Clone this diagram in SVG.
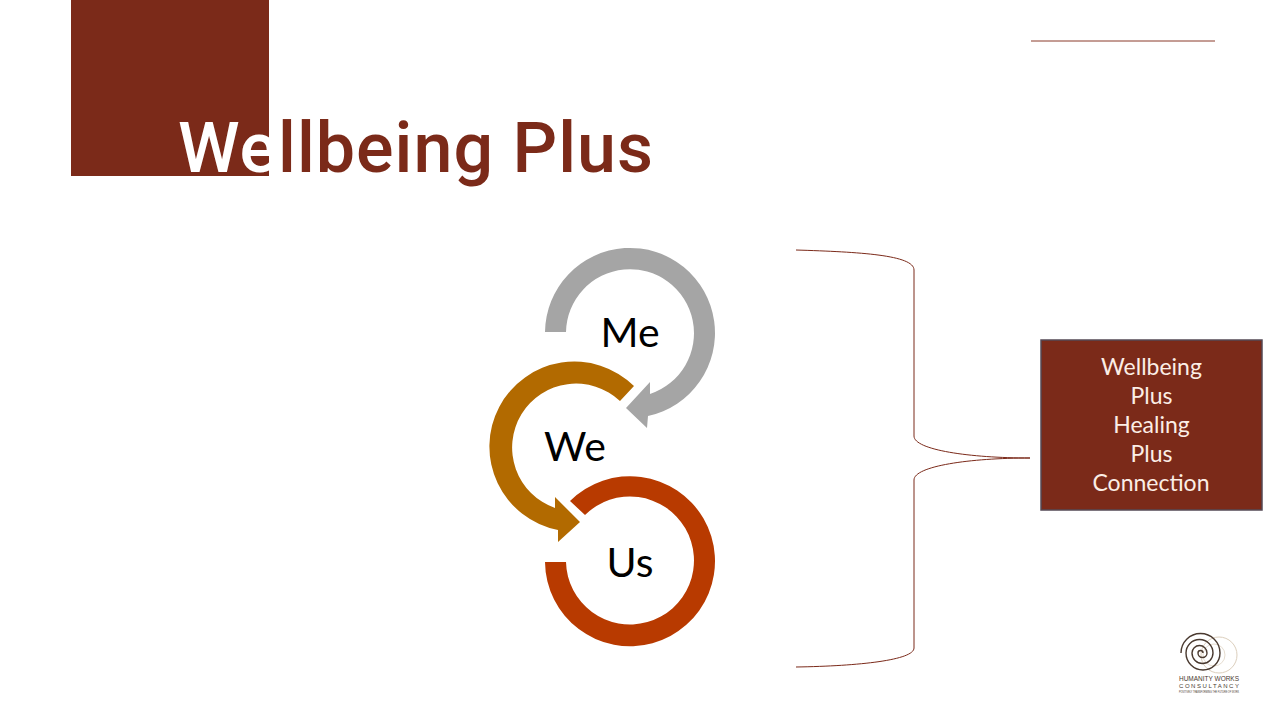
<svg xmlns="http://www.w3.org/2000/svg" width="1280" height="720" viewBox="0 0 1280 720">
<style>
.lbl{font-family:"Lato","Open Sans",sans-serif;font-size:41px;fill:#000;text-anchor:middle}
.box{font-family:"Lato","Open Sans",sans-serif;font-size:23px;fill:#fbeee6;text-anchor:middle}
.thin{fill:none;stroke:#7b2a1a;stroke-width:1}
.lg{font-family:"Liberation Sans",sans-serif;fill:#4a3a30;text-anchor:middle}
</style>
<rect width="1280" height="720" fill="#fff"/>
<g id="title">
<rect x="71" y="0" width="198" height="176" fill="#7b2a19"/>
<text x="178" y="172" font-family="Roboto,sans-serif" font-size="70" font-weight="500" fill="#7b2a19" textLength="475" lengthAdjust="spacing"><tspan fill="#fff">We</tspan>llbeing Plus</text>
</g>
<line id="top-rule" x1="1031" y1="41" x2="1215" y2="41" stroke="#8a3a2a" stroke-width="1"/>
<g id="me">
<path fill="#a5a5a5" d="M545 332A85 85 0 1 1 648 416L647 428L626 408L650 382L650 394A64 64 0 1 0 566 332Z"/>
<text class="lbl" x="630" y="347">Me</text>
</g>
<g id="us">
<path fill="#b83a00" d="M570 501A85 85 0 1 1 545 562L566 562A64 64 0 1 0 585 515Z"/>
<text class="lbl" x="630" y="577">Us</text>
</g>
<g id="we">
<path fill="#b26a00" d="M634 386A85 85 0 1 0 558 530L558 542L580 522L555 497L555 508A64 64 0 1 1 620 401Z"/>
<text class="lbl" x="575" y="461">We</text>
</g>
<g id="connectors">
<path class="thin" d="M796 250C860 252 914 255 914 270L914 436C914 450 970 458 1030 458C970 458 914 466 914 480L914 648C914 660 860 666 796 667"/>
</g>
<g id="summary">
<rect x="1041" y="340" width="221" height="170" fill="#7b2a19" stroke="#544a55" stroke-width="1.500"/>
<text class="box" x="1151.500" y="375">Wellbeing</text>
<text class="box" x="1151.500" y="404">Plus</text>
<text class="box" x="1151.500" y="433">Healing</text>
<text class="box" x="1151.500" y="462">Plus</text>
<text class="box" x="1151" y="491">Connection</text>
</g>
<g id="logo">
<circle cx="1219" cy="655" r="18" fill="none" stroke="#dccfbd" stroke-width="1"/>
<circle cx="1214" cy="655" r="11" fill="none" stroke="#e6ddd0" stroke-width="1"/>
<path fill="none" stroke="#4a3a30" stroke-width="1.400" d="M1203 653A2.500 2.500 0 0 0 1198 653A4.500 4.500 0 0 0 1207 653A7.500 7.500 0 0 0 1192 653A10.500 10.500 0 0 0 1213 653A13.500 13.500 0 0 0 1186 653A17 17 0 0 0 1220 653A19.500 19.500 0 0 0 1181 653"/>
<text class="lg" x="1209" y="681" font-size="8" textLength="60" lengthAdjust="spacingAndGlyphs">HUMANITY WORKS</text>
<text class="lg" x="1209" y="688" font-size="6" textLength="60" lengthAdjust="spacing">CONSULTANCY</text>
<text class="lg" x="1209" y="692.500" font-size="3" textLength="60" lengthAdjust="spacingAndGlyphs">POSITIVELY TRANSFORMING THE FUTURE OF WORK</text>
</g>
</svg>
